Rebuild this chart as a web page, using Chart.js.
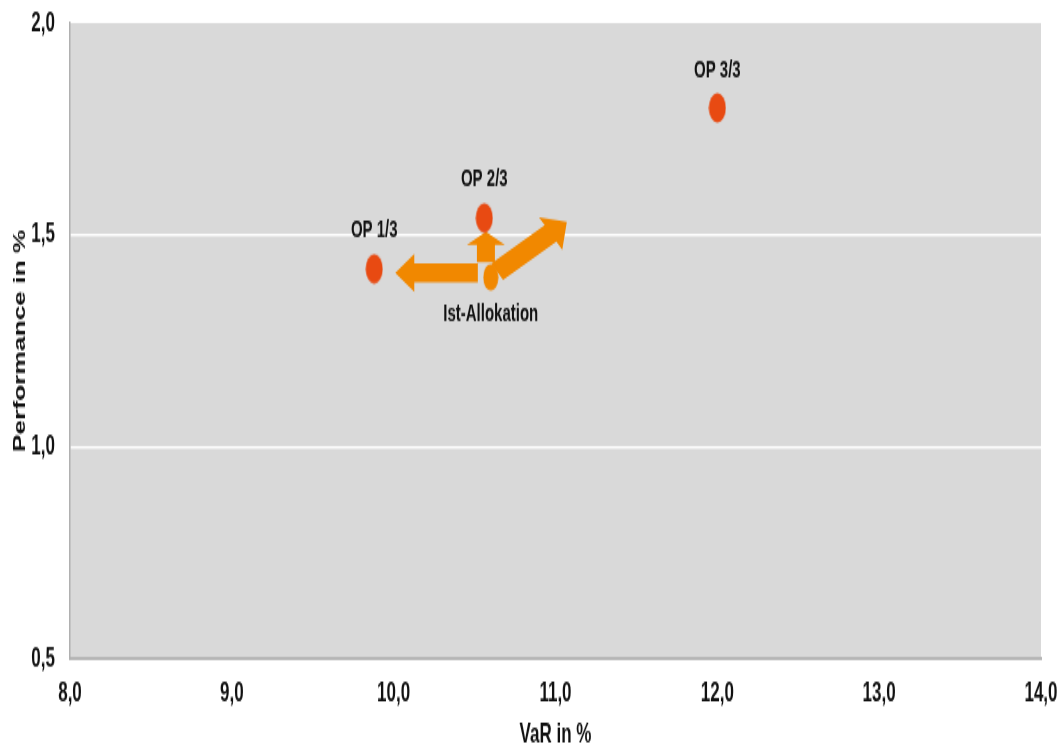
<!DOCTYPE html>
<html lang="de">
<head>
    <meta charset="UTF-8">
    <title>VaR / Performance</title>
    <style>
        body { margin: 0; background: #fff; }
    </style>
</head>
<body>
    <!-- the reference picture is stretched vertically, so the canvas is drawn short and shown tall -->
    <canvas id="chart" width="1061" height="455" style="display:block;width:1061px;height:749px"></canvas>
    <script src="https://cdn.jsdelivr.net/npm/chart.js"></script>
    <script>
        // data
        const opLabels = ['OP 1/3', 'OP 2/3', 'OP 3/3'];
        const opVaR = [9.88, 10.56, 12.0];
        const opPerf = [1.42, 1.54, 1.80];

        const istLabels = ['Ist-Allokation'];
        const istVaR = [10.60];
        const istPerf = [1.40];

        // arrows: [VaR, Perf] start and tip
        const arrowFrom = [[10.52, 1.41], [10.57, 1.436], [10.64, 1.413]];
        const arrowTo = [[10.01, 1.41], [10.57, 1.507], [11.07, 1.531]];

        const xTicks = [8, 9, 10, 11, 12, 13, 14];
        const yTicks = [0.5, 1.0, 1.5, 2.0];

        const STRETCH = 749 / 455;
        const sans = '"Liberation Sans", Arial, sans-serif';
        const RED = '#e84a12';
        const ORANGE = '#f18800';

        function ellipse(w, h, color) {
            const c = document.createElement('canvas');
            c.width = w; c.height = h;
            const g = c.getContext('2d');
            g.fillStyle = color;
            g.beginPath();
            g.ellipse(w / 2, h / 2, w / 2 - 0.5, h / 2 - 0.5, 0, 0, Math.PI * 2);
            g.fill();
            return c;
        }

        const fmt = (v) => v.toFixed(1).replace('.', ',');

        const plotBg = {
            id: 'plotBg',
            beforeDraw(chart) {
                const { ctx, chartArea: a } = chart;
                ctx.save();
                ctx.fillStyle = '#d9d9d9';
                ctx.fillRect(a.left, a.top, a.right - a.left, a.bottom - a.top);
                ctx.restore();
            }
        };

        // arrows are built in picture pixels, then squeezed back by STRETCH
        const arrows = {
            id: 'arrows',
            beforeDatasetsDraw(chart) {
                const { ctx, scales: { x, y } } = chart;
                const sizes = [[19, 38, 19], [18, 38, 13], [20, 40, 20]];
                ctx.save();
                ctx.fillStyle = ORANGE;
                arrowFrom.forEach((f, i) => {
                    const x0 = x.getPixelForValue(f[0]), y0 = y.getPixelForValue(f[1]) * STRETCH;
                    const x1 = x.getPixelForValue(arrowTo[i][0]), y1 = y.getPixelForValue(arrowTo[i][1]) * STRETCH;
                    const [shaft, headW, headL] = sizes[i];
                    const len = Math.hypot(x1 - x0, y1 - y0);
                    const ux = (x1 - x0) / len, uy = (y1 - y0) / len;
                    const nx = -uy, ny = ux;
                    const bx = x1 - ux * headL, by = y1 - uy * headL;
                    const pts = [
                        [x0 + nx * shaft / 2, y0 + ny * shaft / 2],
                        [bx + nx * shaft / 2, by + ny * shaft / 2],
                        [bx + nx * headW / 2, by + ny * headW / 2],
                        [x1, y1],
                        [bx - nx * headW / 2, by - ny * headW / 2],
                        [bx - nx * shaft / 2, by - ny * shaft / 2],
                        [x0 - nx * shaft / 2, y0 - ny * shaft / 2]
                    ];
                    ctx.beginPath();
                    pts.forEach((p, k) => k ? ctx.lineTo(p[0], p[1] / STRETCH) : ctx.moveTo(p[0], p[1] / STRETCH));
                    ctx.closePath();
                    ctx.fill();
                });
                ctx.restore();
            }
        };

        const pointLabels = {
            id: 'pointLabels',
            afterDatasetsDraw(chart) {
                const { ctx } = chart;
                ctx.save();
                ctx.font = 'bold 15px ' + sans;
                ctx.fillStyle = '#111';
                ctx.textAlign = 'center';
                ctx.textBaseline = 'middle';
                chart.data.datasets.forEach((ds, i) => {
                    chart.getDatasetMeta(i).data.forEach((pt, j) => {
                        const dy = ds.labelBelow ? 37 : -38;
                        ctx.fillText(ds.names[j], pt.x, pt.y + dy / STRETCH);
                    });
                });
                ctx.restore();
            }
        };

        new Chart(document.getElementById('chart'), {
            type: 'scatter',
            data: {
                datasets: [{
                    names: opLabels,
                    data: opVaR.map((v, i) => ({ x: v, y: opPerf[i] })),
                    pointStyle: ellipse(18, 19, RED),
                    pointRadius: 9
                }, {
                    names: istLabels,
                    labelBelow: true,
                    data: istVaR.map((v, i) => ({ x: v, y: istPerf[i] })),
                    pointStyle: ellipse(16, 17, ORANGE),
                    pointRadius: 8
                }]
            },
            options: {
                responsive: false,
                devicePixelRatio: 1,
                animation: false,
                layout: { padding: { top: 14, right: 20, left: 0, bottom: 0 } },
                plugins: {
                    legend: { display: false },
                    tooltip: { enabled: false }
                },
                scales: {
                    x: {
                        type: 'linear',
                        min: 8, max: 14,
                        afterFit: (s) => { s.height = 55; s.paddingRight = 20; s.paddingLeft = 0; },
                        afterBuildTicks: (s) => { s.ticks = xTicks.map((v) => ({ value: v })); },
                        ticks: {
                            padding: 11,
                            color: '#111',
                            font: { family: sans, size: 17, weight: 'bold' },
                            callback: fmt,
                            maxRotation: 0
                        },
                        grid: { color: 'rgba(0,0,0,0)', drawTicks: false },
                        border: { color: '#b5b5b5', width: 2 },
                        title: {
                            display: true,
                            text: 'VaR in %',
                            color: '#111',
                            padding: { top: 0, bottom: -2 },
                            font: { family: sans, size: 17, weight: 'bold' }
                        }
                    },
                    y: {
                        min: 0.5, max: 2,
                        afterFit: (s) => { s.width = 70; s.paddingTop = 0; s.paddingBottom = 0; },
                        afterBuildTicks: (s) => { s.ticks = yTicks.map((v) => ({ value: v })); },
                        ticks: {
                            padding: 15,
                            color: '#111',
                            font: { family: sans, size: 17, weight: 'bold' },
                            callback: fmt
                        },
                        grid: {
                            drawTicks: false,
                            lineWidth: 1.4,
                            color: (c) => (c.tick && (c.tick.value === 1 || c.tick.value === 1.5)) ? '#ffffff' : 'rgba(0,0,0,0)'
                        },
                        border: { color: '#b0b0b0', width: 1.5 },
                        title: {
                            display: true,
                            text: 'Performance in %',
                            color: '#111',
                            padding: { top: 11, bottom: 0 },
                            font: { family: sans, size: 16, weight: 'bold' }
                        }
                    }
                }
            },
            plugins: [plotBg, arrows, pointLabels]
        });
    </script>
</body>
</html>
